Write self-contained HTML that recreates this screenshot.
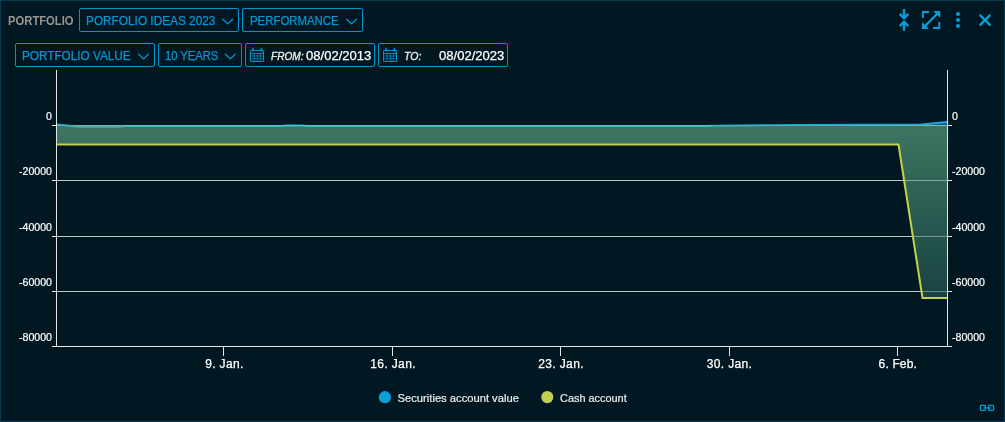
<!DOCTYPE html>
<html>
<head>
<meta charset="utf-8">
<title>Portfolio</title>
<style>
html,body{margin:0;padding:0;}
body{width:1005px;height:422px;overflow:hidden;background:#011721;font-family:"Liberation Sans",sans-serif;position:relative;}
#frame{position:absolute;left:0;top:0;width:1003px;height:420px;border:1px solid #093b50;}
.t{position:absolute;white-space:nowrap;line-height:1;transform-origin:0 0;}
.box{position:absolute;height:22px;border:1px solid #0096cd;border-radius:2px;box-sizing:content-box;}
.blue{color:#0698d3;-webkit-text-stroke:0.25px #0698d3;}
svg{position:absolute;left:0;top:0;}
</style>
</head>
<body>
<div id="frame"></div>

<!-- toolbar boxes -->
<div class="box" style="left:79px;top:8px;width:158px;"></div>
<div class="box" style="left:242px;top:8px;width:119px;"></div>
<div class="box" style="left:15px;top:43px;width:138px;"></div>
<div class="box" style="left:158px;top:43px;width:82px;"></div>
<div class="box" style="left:245px;top:43px;width:128px;"></div>
<div class="box" style="left:378px;top:43px;width:128px;"></div>

<!-- toolbar text -->
<span class="t" id="t1" style="transform:scaleX(0.9);left:8px;top:15px;font-size:12.5px;font-weight:bold;color:#989490;">PORTFOLIO</span>
<span class="t blue" id="t2" style="transform:scaleX(0.985);left:86px;top:14.5px;font-size:12px;">PORFOLIO IDEAS 2023</span>
<span class="t blue" id="t3" style="transform:scaleX(0.95);left:250px;top:14.5px;font-size:12px;">PERFORMANCE</span>
<span class="t blue" id="t4" style="transform:scaleX(0.979);left:22px;top:49.5px;font-size:12px;">PORTFOLIO VALUE</span>
<span class="t blue" id="t5" style="transform:scaleX(0.932);left:165px;top:49.5px;font-size:12px;">10 YEARS</span>
<span class="t" id="t6" style="transform:scaleX(0.96);left:271px;top:51px;font-size:10.5px;font-style:italic;color:#f0ece4;-webkit-text-stroke:0.35px #f0ece4;">FROM:</span>
<span class="t" id="t7" style="transform:scaleX(1.045);left:305.7px;top:50.2px;font-size:12.5px;color:#ffffff;-webkit-text-stroke:0.25px #ffffff;">08/02/2013</span>
<span class="t" id="t8" style="transform:scaleX(1.0);left:404px;top:51px;font-size:10.5px;font-style:italic;color:#f0ece4;-webkit-text-stroke:0.35px #f0ece4;">TO:</span>
<span class="t" id="t9" style="transform:scaleX(1.045);left:438.7px;top:50.2px;font-size:12.5px;color:#ffffff;-webkit-text-stroke:0.25px #ffffff;">08/02/2023</span>

<!-- legend text -->
<span class="t" id="t10" style="left:397.6px;top:393px;font-size:11.2px;color:#eceef0;-webkit-text-stroke:0.2px #eceef0;">Securities account value</span>
<span class="t" id="t11" style="transform:scaleX(0.975);left:560.2px;top:393px;font-size:11.2px;color:#eceef0;-webkit-text-stroke:0.2px #eceef0;">Cash account</span>

<svg width="1005" height="422" viewBox="0 0 1005 422">
  <defs>
    <linearGradient id="g" x1="0" y1="125" x2="0" y2="298" gradientUnits="userSpaceOnUse">
      <stop offset="0" stop-color="#65b58c"/>
      <stop offset="1" stop-color="#275f58"/>
    </linearGradient>
  </defs>
  <!-- grid -->
  <g stroke="#bfc4c7" stroke-width="1" shape-rendering="crispEdges">
    <line x1="57" y1="125.5" x2="947" y2="125.5"/>
    <line x1="57" y1="180.5" x2="947" y2="180.5"/>
    <line x1="57" y1="236.5" x2="947" y2="236.5"/>
    <line x1="57" y1="291.5" x2="947" y2="291.5"/>
  </g>
  <!-- securities series -->
  <path d="M921,125 L947.5,125 L947.5,122 Z" fill="#0b5488"/>
  <path d="M56.5,124.6 L80,126.7 L118,126.7 L126,126 L281,126 L286,125.5 L302,125.5 L307,126 L708,126 L714,125.7 L800,125.1 L921,124.6 L947.5,122" fill="none" stroke="#1ea5dc" stroke-width="2" stroke-linejoin="round"/>
  <!-- cash series -->
  <path d="M56.5,125 L947.5,125 L947.5,298 L922.5,298 L898.5,144.5 L56.5,144.5 Z" fill="url(#g)" fill-opacity="0.6"/>
  <path d="M56.5,144.5 L898.5,144.5 L922.5,298 L947.5,298" fill="none" stroke="#c3d24b" stroke-width="2" stroke-linejoin="round"/>
  <path d="M124,125.5 L712,125.5" stroke="#48cdd1" stroke-width="1" fill="none" shape-rendering="crispEdges"/>
  <!-- axes -->
  <g stroke="#e4e6e8" stroke-width="1" shape-rendering="crispEdges">
    <line x1="52" y1="125.5" x2="57" y2="125.5"/><line x1="947" y1="125.5" x2="952" y2="125.5"/>
    <line x1="52" y1="180.5" x2="57" y2="180.5"/><line x1="947" y1="180.5" x2="952" y2="180.5"/>
    <line x1="52" y1="236.5" x2="57" y2="236.5"/><line x1="947" y1="236.5" x2="952" y2="236.5"/>
    <line x1="52" y1="291.5" x2="57" y2="291.5"/><line x1="947" y1="291.5" x2="952" y2="291.5"/>
    <line x1="52" y1="346.5" x2="952" y2="346.5"/>
    <line x1="56.5" y1="70" x2="56.5" y2="347"/>
    <line x1="947.5" y1="70" x2="947.5" y2="347"/>
    <line x1="223.5" y1="347" x2="223.5" y2="356"/>
    <line x1="392.5" y1="347" x2="392.5" y2="356"/>
    <line x1="560.5" y1="347" x2="560.5" y2="356"/>
    <line x1="729.5" y1="347" x2="729.5" y2="356"/>
    <line x1="897.5" y1="347" x2="897.5" y2="356"/>
  </g>
  <!-- y labels -->
  <g font-family="Liberation Sans, sans-serif" font-size="10.6" fill="#ffffff" stroke="#ffffff" stroke-width="0.2">
    <g text-anchor="end">
      <text x="52" y="120">0</text>
      <text x="52" y="175">-20000</text>
      <text x="52" y="231">-40000</text>
      <text x="52" y="286">-60000</text>
      <text x="52" y="341">-80000</text>
    </g>
    <g text-anchor="start">
      <text x="952" y="120">0</text>
      <text x="952" y="175">-20000</text>
      <text x="952" y="231">-40000</text>
      <text x="952" y="286">-60000</text>
      <text x="952" y="341">-80000</text>
    </g>
  </g>
  <g font-family="Liberation Sans, sans-serif" font-size="12" fill="#ffffff" stroke="#ffffff" stroke-width="0.25" letter-spacing="0.35" text-anchor="middle">
    <text x="224.4" y="368">9. Jan.</text>
    <text x="393.1" y="368">16. Jan.</text>
    <text x="561.1" y="368">23. Jan.</text>
    <text x="729.5" y="368">30. Jan.</text>
    <text x="897.8" y="368" letter-spacing="0.15">6. Feb.</text>
  </g>
  <!-- legend dots -->
  <circle cx="384.9" cy="397.2" r="6.1" fill="#0c9fd6"/>
  <circle cx="547.3" cy="397.1" r="6.1" fill="#c0cf52"/>

  <!-- chevrons -->
  <g fill="none" stroke="#0698d3" stroke-width="1.3" stroke-linecap="round" stroke-linejoin="round">
    <path d="M222.8,19.2 L227.7,23.9 L232.6,19.2"/>
    <path d="M346.6,19.2 L351.5,23.9 L356.4,19.2"/>
    <path d="M138.6,54.2 L143.5,58.9 L148.4,54.2"/>
    <path d="M225.4,54.2 L230.3,58.9 L235.2,54.2"/>
  </g>

  <!-- top-right icons -->
  <g fill="none" stroke="#089dd6" stroke-width="2.5" stroke-linejoin="round" stroke-linecap="butt">
    <path d="M904,9 L904,17.5"/><path d="M900.5,14.6 L904,18.3 L907.5,14.6" stroke-linecap="round"/>
    <path d="M904,30.9 L904,22.5"/><path d="M900.5,25.4 L904,21.7 L907.5,25.4" stroke-linecap="round"/>
    <path d="M979.7,14.8 L990.3,25.4 M990.3,14.8 L979.7,25.4" stroke-width="2.4"/>
  </g>
  <g fill="none" stroke="#089dd6" stroke-width="1.9">
    <path d="M922.9,18 L922.9,12 L929,12 M939.3,22 L939.3,28 L933,28" />
    <path d="M925,26 L937,14" stroke-width="2.4"/>
  </g>
  <path d="M933.2,11 L940.2,11 L940.2,18 Z M922,22 L922,29 L929,29 Z" fill="#089dd6"/>
  <g fill="#089dd6">
    <circle cx="958" cy="14" r="2"/>
    <circle cx="958" cy="20" r="2"/>
    <circle cx="958" cy="26" r="2"/>
  </g>

  <!-- calendar icons -->
  <g id="cal1" fill="none" stroke="#0592c9" stroke-width="1">
    <rect x="250.5" y="50.5" width="13" height="11" rx="0.5"/>
    <path d="M250.5,53.4 h13" stroke-width="1"/>
    <path d="M250.5,56 h13 M250.5,58.7 h13 M254.2,53.4 v8 M257.3,53.4 v8 M260.3,53.4 v8" stroke-opacity="0.7"/>
    <path d="M251.8,51 L253,47.6 L254.2,51 Z M260.2,51 L261.4,47.6 L262.6,51 Z" fill="#0592c9" stroke-width="0.6"/>
  </g>
  <g id="cal2" fill="none" stroke="#0592c9" stroke-width="1" transform="translate(133,0)">
    <rect x="250.5" y="50.5" width="13" height="11" rx="0.5"/>
    <path d="M250.5,53.4 h13" stroke-width="1"/>
    <path d="M250.5,56 h13 M250.5,58.7 h13 M254.2,53.4 v8 M257.3,53.4 v8 M260.3,53.4 v8" stroke-opacity="0.7"/>
    <path d="M251.8,51 L253,47.6 L254.2,51 Z M260.2,51 L261.4,47.6 L262.6,51 Z" fill="#0592c9" stroke-width="0.6"/>
  </g>

  <!-- link icon -->
  <g fill="none" stroke="#089dd6" stroke-width="1.3">
    <rect x="980.4" y="405.4" width="5" height="5" rx="0.8"/>
    <rect x="988.6" y="405.4" width="5" height="5" rx="0.8"/>
    <path d="M983.5,407.9 h7.5" stroke-width="1.1"/>
  </g>
</svg>
</body>
</html>
